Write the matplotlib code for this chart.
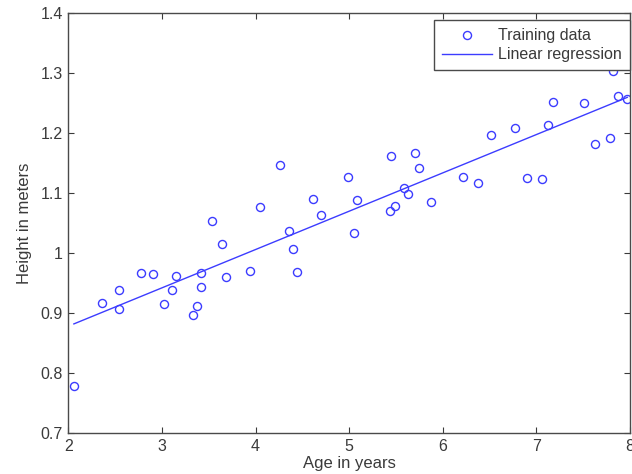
import matplotlib.pyplot as plt
from matplotlib.ticker import FormatStrFormatter, FuncFormatter

# Datos (edad en anios, altura en metros)
edad = [
    2.06, 2.36, 2.54, 2.54, 2.775, 2.90, 3.02, 3.11, 3.15, 3.33,
    3.38, 3.42, 3.42, 3.53, 3.64, 3.68, 3.94, 4.05, 4.26, 4.36,
    4.40, 4.44, 4.615, 4.70, 4.99, 5.05, 5.08, 5.44, 5.45, 5.485,
    5.585, 5.63, 5.705, 5.75, 5.87, 6.22, 6.38, 6.51, 6.77, 6.895,
    7.06, 7.12, 7.18, 7.51, 7.63, 7.785, 7.82, 7.87, 7.97,
]
altura = [
    0.779, 0.917, 0.939, 0.907, 0.967, 0.965, 0.915, 0.939, 0.962, 0.897,
    0.912, 0.943, 0.967, 1.054, 1.015, 0.960, 0.970, 1.077, 1.146, 1.036,
    1.007, 0.968, 1.090, 1.064, 1.126, 1.034, 1.088, 1.070, 1.162, 1.079,
    1.109, 1.098, 1.166, 1.142, 1.085, 1.126, 1.117, 1.197, 1.208, 1.125,
    1.123, 1.213, 1.252, 1.250, 1.181, 1.192, 1.304, 1.261, 1.257,
]

# Parametros de la regresion lineal (intercepto, pendiente)
theta = [0.7502, 0.0639]

x_ticks = [2, 3, 4, 5, 6, 7, 8]
y_ticks = [0.7, 0.8, 0.9, 1.0, 1.1, 1.2, 1.3, 1.4]

color_texto = "#3a3a3a"
color_datos = "#3c3cff"
plt.rcParams["font.family"] = ["Liberation Sans", "DejaVu Sans"]


def formato_matlab(valor, pos):
    return f"{valor:g}"


def main():
    fig = plt.figure(figsize=(6.32, 4.74), dpi=100)
    ax = fig.add_axes([0.108, 0.0865, 0.889, 0.886])

    ax.plot(
        edad, altura, "o",
        color=color_datos, markerfacecolor="none", markersize=5.8,
        markeredgewidth=1.0, label="Training data",
    )

    prediccion = [theta[0] + theta[1] * x for x in edad]
    ax.plot(edad, prediccion, "-", color=color_datos, linewidth=1.0,
            label="Linear regression")

    ax.set_xlim(2, 8)
    ax.set_ylim(0.7, 1.4)
    ax.set_xticks(x_ticks)
    ax.set_yticks(y_ticks)
    ax.yaxis.set_major_formatter(FuncFormatter(formato_matlab))
    ax.xaxis.set_major_formatter(FormatStrFormatter("%d"))

    ax.tick_params(direction="in", length=4, width=0.8, top=True, right=True,
                   labelsize=11.5, colors=color_texto, pad=4)
    for spine in ax.spines.values():
        spine.set_color("#4a4a4a")
        spine.set_linewidth(1.0)

    ax.set_xlabel("Age in years", fontsize=12, color=color_texto, labelpad=2)
    ax.set_ylabel("Height in meters", fontsize=12, color=color_texto, labelpad=6)

    leyenda = ax.legend(
        loc="upper right", bbox_to_anchor=(1.0, 0.983), borderaxespad=0,
        fontsize=11.5, fancybox=False, framealpha=1.0, edgecolor="#4a4a4a",
        borderpad=0.5, labelspacing=0.25, handlelength=3.1, handletextpad=0.4,
    )
    leyenda.get_frame().set_linewidth(1.0)
    for texto in leyenda.get_texts():
        texto.set_color(color_texto)

    fig.savefig("out.png", dpi=100)
    plt.close(fig)


if __name__ == "__main__":
    main()
